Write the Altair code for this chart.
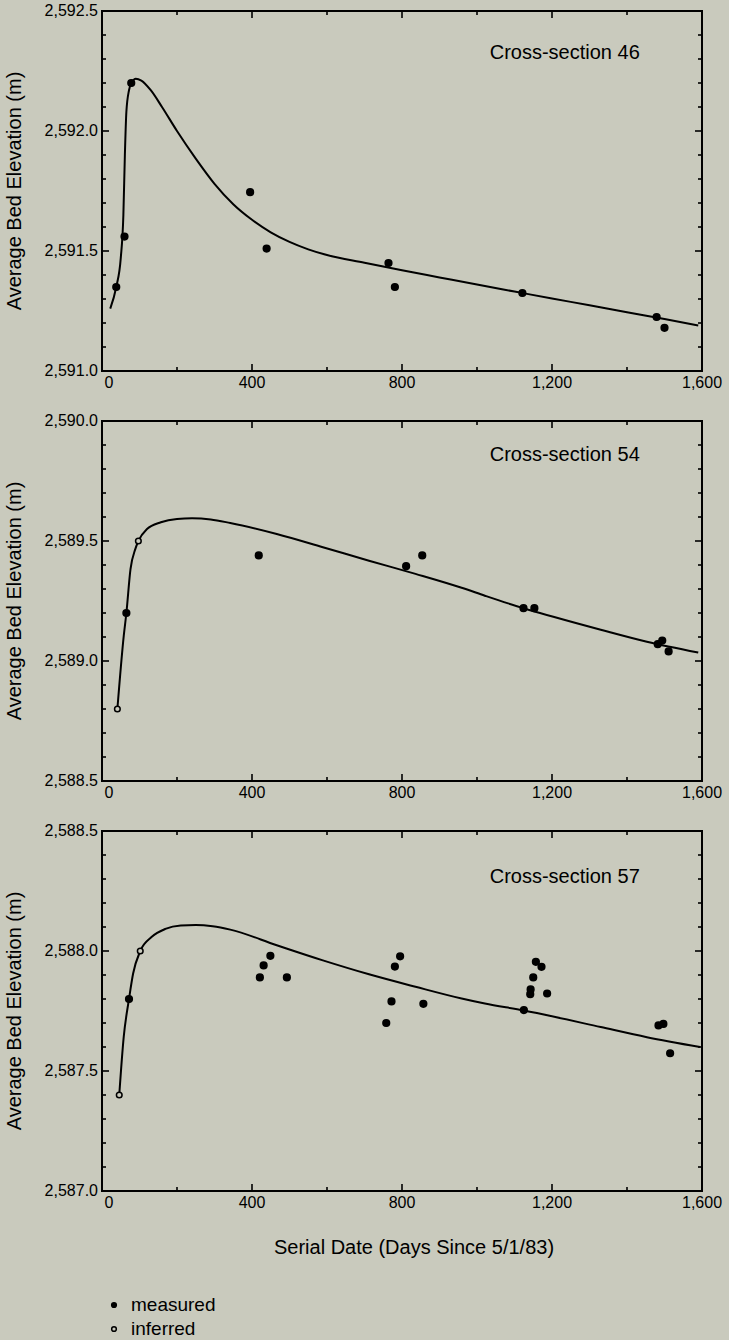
import altair as alt
import pandas as pd

BG = "#c9cabd"
FONT = "Liberation Sans"
W, H = 600, 360

# ---- axis tick values ----
x_major = [0, 400, 800, 1200, 1600]
x_minor = [200, 600, 1000, 1400]

# ---- Cross-section 46 ----
p1_days = [38, 60, 78, 395, 439, 764, 781, 1121, 1479, 1500]
p1_elev = [2591.35, 2591.56, 2592.20, 2591.745, 2591.51, 2591.45, 2591.35, 2591.325, 2591.225, 2591.18]
p1_type = ["measured"] * 10
p1_curve_days = [22, 38, 50, 57, 61, 65, 72, 80, 90, 105, 130, 160, 200, 250, 300, 350, 400, 450, 500,
                 550, 600, 700, 800, 900, 1000, 1100, 1200, 1300, 1400, 1500, 1590]
p1_curve_elev = [2591.26, 2591.35, 2591.47, 2591.65, 2591.90, 2592.08, 2592.17, 2592.205, 2592.218,
                 2592.21, 2592.17, 2592.10, 2592.00, 2591.885, 2591.78, 2591.695, 2591.63, 2591.578,
                 2591.538, 2591.507, 2591.483, 2591.451, 2591.420, 2591.390, 2591.360, 2591.331,
                 2591.302, 2591.274, 2591.245, 2591.217, 2591.19]

# ---- Cross-section 54 ----
p2_days = [41, 65, 97, 418, 811, 854, 1124, 1153, 1482, 1494, 1511]
p2_elev = [2588.80, 2589.20, 2589.50, 2589.44, 2589.395, 2589.44, 2589.22, 2589.22, 2589.07, 2589.085, 2589.04]
p2_type = ["inferred", "measured", "inferred"] + ["measured"] * 8
p2_curve_days = [41, 58, 65, 76, 89, 97, 120, 157, 200, 240, 290, 342, 466, 589, 712, 836, 959, 1021,
                 1083, 1206, 1330, 1453, 1590]
p2_curve_elev = [2588.80, 2589.105, 2589.20, 2589.383, 2589.467, 2589.50, 2589.55, 2589.578, 2589.592,
                 2589.595, 2589.590, 2589.575, 2589.529, 2589.474, 2589.418, 2589.363, 2589.305,
                 2589.272, 2589.240, 2589.183, 2589.130, 2589.080, 2589.035]

# ---- Cross-section 57 ----
p3_days = [46, 72, 102, 421, 431, 449, 493, 758, 772, 781, 795, 857, 1125, 1142, 1143, 1150, 1157, 1172,
           1187, 1484, 1497, 1515]
p3_elev = [2587.40, 2587.80, 2588.00, 2587.89, 2587.94, 2587.98, 2587.89, 2587.70, 2587.79, 2587.935,
           2587.978, 2587.78, 2587.754, 2587.82, 2587.84, 2587.89, 2587.955, 2587.934, 2587.823, 2587.69,
           2587.696, 2587.574]
p3_type = ["inferred", "measured", "inferred"] + ["measured"] * 19
p3_curve_days = [46, 58, 72, 83, 102, 132, 169, 210, 250, 295, 342, 466, 589, 712, 836, 959, 1021, 1125,
                 1206, 1330, 1453, 1595]
p3_curve_elev = [2587.40, 2587.643, 2587.80, 2587.906, 2588.00, 2588.058, 2588.092, 2588.106, 2588.108,
                 2588.103, 2588.089, 2588.024, 2587.961, 2587.903, 2587.851, 2587.802, 2587.781,
                 2587.752, 2587.726, 2587.683, 2587.641, 2587.60]

panel_titles = ["Cross-section 46", "Cross-section 54", "Cross-section 57"]
panel_domains = [[2591.0, 2592.5], [2588.5, 2590.0], [2587.0, 2588.5]]
label_day = 1234
label_elev = [2592.325, 2589.86, 2588.31]

y_title = "Average Bed Elevation (m)"
x_title = "Serial Date (Days Since 5/1/83)"
legend_labels = ["measured", "inferred"]

fill_scale = alt.Scale(domain=legend_labels, range=["black", BG])
size_scale = alt.Scale(domain=legend_labels, range=[45, 32])


def make_panel(i, days, elev, types, cdays, celev, show_xtitle):
    lo, hi = panel_domains[i]
    y_major = [round(lo + 0.5 * k, 1) for k in range(4)]
    y_minor = [round(lo + 0.1 * k, 1) for k in range(1, 15) if k % 5]
    xs = alt.Scale(domain=[0, 1600], nice=False, zero=False)
    ys = alt.Scale(domain=[lo, hi], nice=False, zero=False)
    X = lambda f: alt.X(f, scale=xs, axis=None)
    Y = lambda f: alt.Y(f, scale=ys, axis=None)

    curve = pd.DataFrame({"day": cdays, "elev": celev})
    pts = pd.DataFrame({"day": days, "elev": elev, "type": types})

    line = alt.Chart(curve).mark_line(color="black", strokeWidth=2, interpolate="monotone").encode(
        x=X("day:Q"), y=Y("elev:Q"),
    )
    points = alt.Chart(pts).mark_point(filled=False, stroke="black", strokeWidth=1.5, opacity=1).encode(
        x=X("day:Q"), y=Y("elev:Q"),
        fill=alt.Fill("type:N", scale=fill_scale, legend=None),
        size=alt.Size("type:N", scale=size_scale, legend=None),
    )
    label = alt.Chart(pd.DataFrame({"day": [label_day], "elev": [label_elev[i]], "t": [panel_titles[i]]})
                      ).mark_text(fontSize=20, align="center", baseline="middle", color="black").encode(
        x=X("day:Q"), y=Y("elev:Q"), text="t:N",
    )

    # inward tick marks on all four sides
    def yticks(vals, length, side):
        xc = length / 2 if side == "left" else W - length / 2
        return alt.Chart(pd.DataFrame({"yt": vals})).mark_tick(
            orient="horizontal", size=length, thickness=1.6, color="black", opacity=1).encode(
            y=Y("yt:Q"), x=alt.value(xc))

    def xticks(vals, length, side):
        yc = length / 2 if side == "top" else H - length / 2
        return alt.Chart(pd.DataFrame({"xt": vals})).mark_tick(
            orient="vertical", size=length, thickness=1.6, color="black", opacity=1).encode(
            x=X("xt:Q"), y=alt.value(yc))

    ticks = [
        yticks(y_major, 7, "left"), yticks(y_minor, 4, "left"),
        yticks(y_major, 7, "right"), yticks(y_minor, 4, "right"),
        xticks(x_major, 7, "top"), xticks(x_minor, 4, "top"),
        xticks(x_major, 7, "bottom"), xticks(x_minor, 4, "bottom"),
    ]

    # tick labels drawn through the same scales
    ylabels = alt.Chart(pd.DataFrame({"v": y_major})).mark_text(
        fontSize=16, align="right", baseline="middle", color="black").encode(
        y=Y("v:Q"), x=alt.value(-4), text=alt.Text("v:Q", format=",.1f"))
    xlab0 = alt.Chart(pd.DataFrame({"v": x_major[:1]})).mark_text(
        fontSize=16, align="center", baseline="top", color="black", dx=7).encode(
        x=X("v:Q"), y=alt.value(H + 4), text=alt.Text("v:Q", format=",d"))
    xlabs = alt.Chart(pd.DataFrame({"v": x_major[1:]})).mark_text(
        fontSize=16, align="center", baseline="top", color="black").encode(
        x=X("v:Q"), y=alt.value(H + 4), text=alt.Text("v:Q", format=",d"))
    ytitle = alt.Chart(pd.DataFrame({"t": [y_title]})).mark_text(
        fontSize=20, align="center", baseline="middle", angle=270, color="black").encode(
        x=alt.value(-87), y=alt.value(H / 2), text="t:N")
    layers = [line, points, label, *ticks, ylabels, xlab0, xlabs, ytitle]
    if show_xtitle:
        xtitle = alt.Chart(pd.DataFrame({"t": [x_title]})).mark_text(
            fontSize=20, align="center", baseline="middle", color="black").encode(
            x=alt.value(312), y=alt.value(H + 57), text="t:N")
        layers.append(xtitle)
    return alt.layer(*layers).properties(width=W, height=H)


p1 = make_panel(0, p1_days, p1_elev, p1_type, p1_curve_days, p1_curve_elev, False)
p2 = make_panel(1, p2_days, p2_elev, p2_type, p2_curve_days, p2_curve_elev, False)
p3 = make_panel(2, p3_days, p3_elev, p3_type, p3_curve_days, p3_curve_elev, True)

leg_df = pd.DataFrame({"type": legend_labels})
leg_y = alt.Y("type:N", sort=legend_labels, scale=alt.Scale(type="point", padding=0.25), axis=None)
leg_pts = alt.Chart(leg_df).mark_point(filled=False, stroke="black", strokeWidth=1.5, opacity=1).encode(
    y=leg_y, x=alt.value(12),
    fill=alt.Fill("type:N", scale=fill_scale, legend=None),
    size=alt.value(22),
)
leg_txt = alt.Chart(leg_df).mark_text(align="left", baseline="middle", fontSize=19, color="black").encode(
    y=leg_y, x=alt.value(29), text="type:N",
)
legend = alt.layer(leg_pts, leg_txt).properties(width=W, height=36,
                                                 view=alt.ViewBackground(stroke="transparent"))

panels = alt.vconcat(p1, p2, p3, spacing=50, bounds="flush").resolve_scale(y="independent")
chart = alt.vconcat(panels, legend, spacing=36).resolve_scale(y="independent").properties(
    background=BG,
    padding={"left": 4, "top": 2, "right": 5, "bottom": 0},
).configure(font=FONT).configure_view(stroke="black", strokeWidth=2).configure_text(font=FONT)

chart.save("out.html", embed_options={"renderer": "svg", "actions": False})
